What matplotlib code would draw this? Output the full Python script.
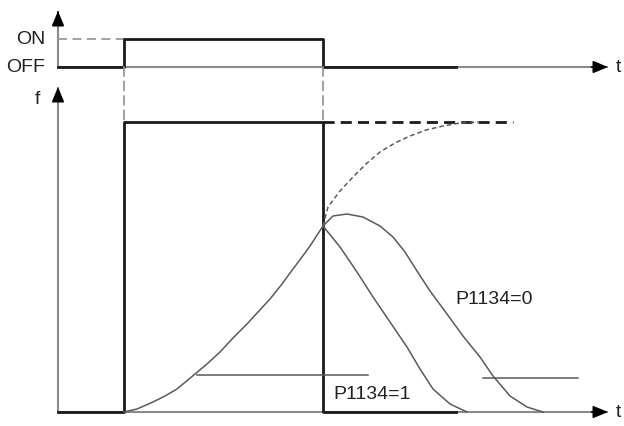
import numpy as np
import matplotlib
matplotlib.use("Agg")
import matplotlib.pyplot as plt
from matplotlib.patches import ConnectionPatch

plt.rcParams['font.family'] = ['Liberation Sans', 'DejaVu Sans']

# --- data (t and f in arbitrary units) ---
t_on = 6.6
t_off = 26.5
t_hold_end = 39.8     # end of the thick OFF / 0 Hz segment
t_axis_end = 55.0
f_set = 29.0
f_axis_end = 32.5

# ON/OFF command
cmd_t = [0, t_on, t_off, t_hold_end]
cmd_state = [0, 1, 0, 0]

# frequency setpoint (step)
step_t = [0, t_on, t_off, t_hold_end]
step_f = [0, f_set, 0, 0]
setpoint_dash_t = [t_off, 45.5]

# rounded acceleration
acc_t = [6.6, 7.9, 9.5, 10.7, 11.9, 13.7, 14.9, 16.2, 17.5, 18.9, 20.0, 21.2, 22.4, 23.5, 24.4, 25.2, 26.5]
acc_f = [0.0, 0.3, 1.0, 1.6, 2.3, 3.8, 4.8, 6.0, 7.4, 8.8, 10.0, 11.3, 12.8, 14.3, 15.5, 16.6, 18.6]

# continuation if ON had stayed (dashed)
cont_t = [26.5, 27.0, 28.2, 29.5, 30.8, 32.2, 33.7, 35.2, 36.8, 38.5, 40.2, 42.0]
cont_f = [18.6, 20.5, 22.1, 23.5, 24.8, 26.0, 26.9, 27.6, 28.2, 28.6, 28.9, 29.0]

# P1134=0 : continuous smoothing
p0_t = [26.5, 27.5, 28.9, 30.5, 32.2, 33.5, 34.7, 35.9, 37.2, 38.9, 40.5, 42.2, 43.5, 45.2, 46.9, 48.5]
p0_f = [18.6, 19.6, 19.8, 19.5, 18.6, 17.5, 16.0, 14.1, 12.1, 9.8, 7.6, 5.5, 3.6, 1.6, 0.5, 0.0]

# P1134=1 : discontinuous smoothing
p1_t = [26.5, 28.2, 29.9, 31.5, 33.2, 34.9, 36.2, 37.5, 39.2, 40.9]
p1_f = [18.6, 16.5, 14.0, 11.5, 9.0, 6.5, 4.3, 2.3, 0.8, 0.0]

# horizontal marker lines
hline1_t = [13.9, 31.0]
hline1_f = 3.7
hline2_t = [42.5, 52.0]
hline2_f = 3.4

thin = '#5a5a5a'
axis_col = '#8a8a8a'
thick = '#1a1a1a'
fs = 14

fig = plt.figure(figsize=(6.24, 4.27), dpi=100)
h_top = 80 / 427
ax_top = fig.add_axes([0, 1 - h_top, 1, h_top])
ax = fig.add_axes([0, 0, 1, 1 - h_top])

xlim = (-5.8, 56.6)
ax_top.set_xlim(*xlim)
ax_top.set_ylim(-12 / 28, 68 / 28)
ax.set_xlim(*xlim)
ax.set_ylim(-1.4, 33.3)
for a in (ax_top, ax):
    a.axis('off')

head = dict(arrowstyle='-|>,head_length=0.6,head_width=0.25', color='black',
            lw=1.2, shrinkA=0, shrinkB=0, mutation_scale=15)


def axis_arrow(a, x0, y0, x1, y1, col):
    a.plot([x0, x1], [y0, y1], color=col, lw=1.5, solid_capstyle='butt')
    a.annotate('', xy=(x1, y1), xytext=(x0 + (x1 - x0) * 0.97, y0 + (y1 - y0) * 0.97),
               arrowprops=head)


# --- top: ON/OFF ---
axis_arrow(ax_top, 0, 0, t_axis_end, 0, axis_col)
axis_arrow(ax_top, 0, 0, 0, 2.0, axis_col)
ax_top.plot([0, t_on], [1, 1], color='#999999', lw=1.3, ls=(0, (5, 3)))
ax_top.step(cmd_t, cmd_state, where='post', color=thick, lw=2.0)
ax_top.text(-1.3, 1, 'ON', ha='right', va='center', fontsize=fs, color='#222222')
ax_top.text(-1.3, 0, 'OFF', ha='right', va='center', fontsize=fs, color='#222222')
ax_top.text(55.8, 0, 't', ha='left', va='center', fontsize=fs, color='#222222')

# --- bottom: f ---
axis_arrow(ax, 0, 0, t_axis_end, 0, axis_col)
axis_arrow(ax, 0, 0, 0, f_axis_end, axis_col)
ax.text(-1.8, 31.3, 'f', ha='right', va='center', fontsize=fs, color='#222222')
ax.text(55.8, 0, 't', ha='left', va='center', fontsize=fs, color='#222222')

ax.plot(setpoint_dash_t, [f_set, f_set], color=thick, lw=2.0, ls=(0, (4, 2.2)))
ax.step(step_t, step_f, where='post', color=thick, lw=2.0)

ax.plot(acc_t, acc_f, color=thin, lw=1.1)
ax.plot(cont_t, cont_f, color=thin, lw=1.1, ls=(0, (3, 2)))
ax.plot(p0_t, p0_f, color=thin, lw=1.1)
ax.plot(p1_t, p1_f, color=thin, lw=1.1)
ax.plot(hline1_t, [hline1_f, hline1_f], color=thin, lw=1.1)
ax.plot(hline2_t, [hline2_f, hline2_f], color=thin, lw=1.1)

ax.text(39.7, 11.3, 'P1134=0', ha='left', va='center', fontsize=fs, color='#222222',
        bbox=dict(fc='white', ec='none', pad=1))
ax.text(27.5, 1.8, 'P1134=1', ha='left', va='center', fontsize=fs, color='#222222',
        bbox=dict(fc='white', ec='none', pad=1))

# dashed links between command edges and frequency setpoint
for t in (t_on, t_off):
    con = ConnectionPatch(xyA=(t, 0), coordsA=ax_top.transData,
                          xyB=(t, f_set), coordsB=ax.transData,
                          color='#999999', lw=1.3, ls=(0, (5, 3)))
    fig.add_artist(con)

fig.savefig('out.png', dpi=100)
